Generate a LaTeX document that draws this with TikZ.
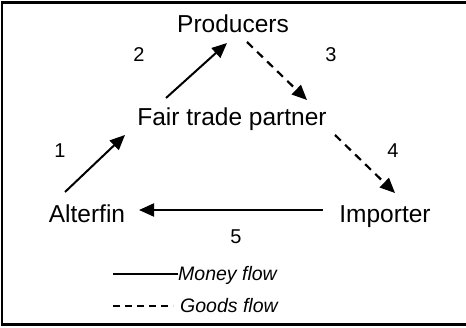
\documentclass[tikz,border=0pt]{standalone}
\usepackage{fontspec}
\setmainfont{Liberation Sans}
\usetikzlibrary{arrows.meta}
\begin{document}
\begin{tikzpicture}[x=1pt,y=-1pt,
  lbl/.style={anchor=base,inner sep=0pt,font=\fontsize{24.5}{28}\selectfont},
  num/.style={anchor=base,inner sep=0pt,font=\fontsize{20}{24}\selectfont},
  leg/.style={anchor=base west,inner sep=0pt,font=\fontsize{19.5}{23}\selectfont\itshape},
  money/.style={line width=2pt,-{Triangle[length=15pt,width=13pt]}},
  goods/.style={line width=2.2pt,dash pattern=on 8pt off 6pt,-{Triangle[length=15pt,width=13pt]}},
  frame/.style={line width=2.5pt}]
\useasboundingbox (0,0) rectangle (466,327);
\draw[frame] (466,2.5) -- (2.2,2.5) -- (2.2,324.5) -- (466,324.5);
\node[lbl] (prod) at (233,32) {Producers};
\node[lbl] (ftp) at (232,125) {Fair trade partner};
\node[lbl] (alt) at (87,222) {Alterfin};
\node[lbl] (imp) at (385,222) {Importer};
\node[num] (n1) at (60,157) {1};
\node[num] (n2) at (139,61) {2};
\node[num] (n3) at (331,61) {3};
\node[num] (n4) at (393,157) {4};
\node[num] (n5) at (236,243) {5};
\coordinate (a1s) at (65,192);
\coordinate (a1e) at (125,135);
\coordinate (a2s) at (166,98);
\coordinate (a2e) at (227,43);
\coordinate (a3s) at (247,42);
\coordinate (a3e) at (307,100);
\coordinate (a4s) at (335,135);
\coordinate (a4e) at (395,193);
\coordinate (a5s) at (323,210);
\coordinate (a5e) at (139,210);
\draw[money] (a1s) -- (a1e);
\draw[money] (a2s) -- (a2e);
\draw[goods] (a3s) -- (a3e);
\draw[goods] (a4s) -- (a4e);
\draw[money] (a5s) -- (a5e);
\coordinate (m1) at (113,274);
\coordinate (m2) at (178,274);
\coordinate (g1) at (113,306);
\coordinate (g2) at (173,306);
\draw[line width=1.5pt] (m1) -- (m2);
\draw[line width=1.5pt,dash pattern=on 7pt off 5pt] (g1) -- (g2);
\node[leg] (mf) at (178,280) {Money flow};
\node[leg] (gf) at (180,312) {Goods flow};
\end{tikzpicture}
\end{document}
